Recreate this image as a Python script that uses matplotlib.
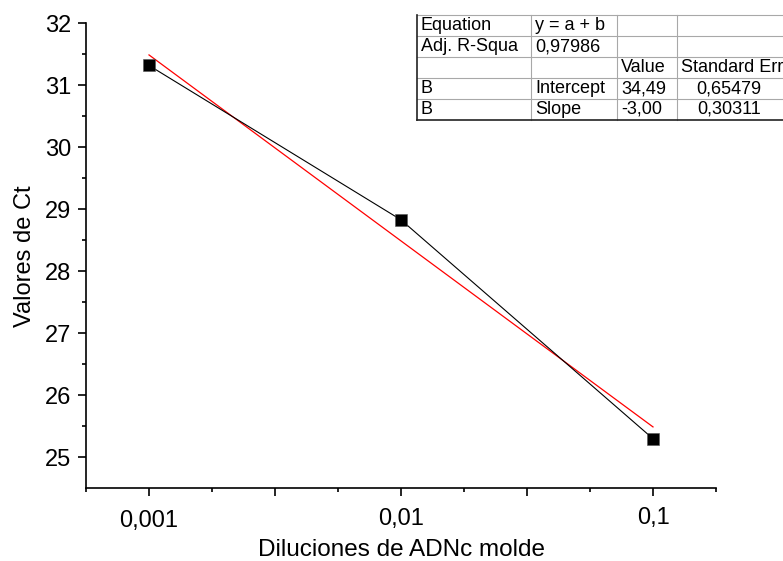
import numpy as np
import matplotlib
matplotlib.use("Agg")
import matplotlib.pyplot as plt
import matplotlib.transforms as mtransforms
from matplotlib.ticker import FixedLocator, FixedFormatter
from matplotlib.lines import Line2D

# Data
dilutions = [0.001, 0.01, 0.1]
ct_values = [31.32, 28.83, 25.30]
x_tick_labels = ["0,001", "0,01", "0,1"]
y_ticks = [25, 26, 27, 28, 29, 30, 31, 32]

# Linear fit reported in the table (x = dilution step 1, 2, 3)
fit_intercept = 34.49
fit_slope = -3.00

table_rows = [
    ["Equation", "y = a + b", "", ""],
    ["Adj. R-Squa", "0,97986", "", ""],
    ["", "", "Value", "Standard Err"],
    ["B", "Intercept", "34,49", "0,65479"],
    ["B", "Slope", "-3,00", "0,30311"],
]

plt.rcParams['font.family'] = ['Liberation Sans', 'DejaVu Sans']

W, H = 783, 561
fig = plt.figure(figsize=(W / 100, H / 100), dpi=100)
ax_left, ax_right, ax_top, ax_bottom = 86, 716, 23.3, 488.3
ax = fig.add_axes([ax_left / W, 1 - ax_bottom / H,
                   (ax_right - ax_left) / W, (ax_bottom - ax_top) / H])

# Measured points joined by a thin black line
ax.plot(dilutions, ct_values, color='black', lw=0.8, marker='s',
        markersize=8, markerfacecolor='black', markeredgecolor='#555555',
        markeredgewidth=0.4, zorder=3)

# Fitted line
step = np.log10(np.array(dilutions)) - np.log10(dilutions[0]) + 1
fit_y = fit_intercept + fit_slope * step
ax.plot([dilutions[0], dilutions[-1]], [fit_y[0], fit_y[-1]],
        color='red', lw=0.9, zorder=2)

# Axes styling
ax.set_xscale('log')
ax.set_xlim(10 ** -3.25, 10 ** -0.75)
ax.set_ylim(24.5, 32)
for side in ('top', 'right'):
    ax.spines[side].set_visible(False)
for side in ('left', 'bottom'):
    ax.spines[side].set_linewidth(1.2)

dec = np.log10(dilutions)
major_x = np.arange(dec[0], dec[-1] + 0.01, 0.5)
minor_x = np.arange(dec[0] - 0.25, dec[-1] + 0.26, 0.5)
major_labels = []
for e in major_x:
    hit = [lab for d, lab in zip(dec, x_tick_labels) if abs(d - e) < 1e-6]
    major_labels.append(hit[0] if hit else "")
ax.xaxis.set_major_locator(FixedLocator(10 ** major_x))
ax.xaxis.set_major_formatter(FixedFormatter(major_labels))
ax.xaxis.set_minor_locator(FixedLocator(10 ** minor_x))
ax.xaxis.set_minor_formatter(FixedFormatter([""] * len(minor_x)))

ax.yaxis.set_major_locator(FixedLocator(y_ticks))
ax.yaxis.set_minor_locator(FixedLocator(np.array(y_ticks[:-1]) + 0.5))
ax.set_yticklabels([str(v) for v in y_ticks])

ax.tick_params(which='major', direction='out', length=5.8, width=1.2,
               labelsize=17, color='black')
ax.tick_params(which='minor', direction='out', length=3.0, width=1.2)
ax.tick_params(axis='x', which='major', pad=10)
ax.tick_params(axis='y', which='major', pad=5)

fig.canvas.draw()
# slight stagger of the decade labels
shift = {"0,001": 0, "0,01": 1.8, "0,1": 3.6}
for lab in ax.get_xticklabels():
    t = lab.get_text()
    if t in shift:
        off = mtransforms.ScaledTranslation(0, shift[t] / 100, fig.dpi_scale_trans)
        lab.set_transform(lab.get_transform() + off)

ax.set_xlabel("Diluciones de ADNc molde", fontsize=17.5, va='center')
ax.xaxis.set_label_coords(0.5, (ax_bottom - 550) / (ax_bottom - ax_top))
ax.set_ylabel("Valores de Ct", fontsize=17, va='center')
ax.yaxis.set_label_coords((25 - ax_left) / (ax_right - ax_left), 0.5)

# Parameter table in the upper right corner
col_edges = [417, 531, 617, 677, 800]
row_edges = [15, 36, 57, 78, 99, 120]


def fx(x):
    return x / W


def fy(y):
    return 1 - y / H


grid_color = '#a8a8a8'
for y in row_edges[:-1]:
    fig.add_artist(Line2D([fx(col_edges[0]), fx(col_edges[-1])], [fy(y), fy(y)],
                          color=grid_color, lw=0.8))
for x in col_edges[1:]:
    fig.add_artist(Line2D([fx(x), fx(x)], [fy(row_edges[0]), fy(row_edges[-1])],
                          color=grid_color, lw=0.8))
fig.add_artist(Line2D([fx(col_edges[0]), fx(col_edges[0])],
                      [fy(row_edges[0]), fy(row_edges[-1])], color='#222222', lw=1.2))
fig.add_artist(Line2D([fx(col_edges[0]), fx(col_edges[-1])],
                      [fy(row_edges[-1]), fy(row_edges[-1])], color='#222222', lw=1.2))

for r, row in enumerate(table_rows):
    yc = (row_edges[r] + row_edges[r + 1]) / 2
    for c, txt in enumerate(row):
        if not txt:
            continue
        if c == 3 and r >= 3:
            fig.text(fx(761), fy(yc), txt, fontsize=13, ha='right', va='center')
        else:
            fig.text(fx(col_edges[c] + 4), fy(yc), txt, fontsize=13,
                     ha='left', va='center')

fig.savefig("out.png", dpi=100)
